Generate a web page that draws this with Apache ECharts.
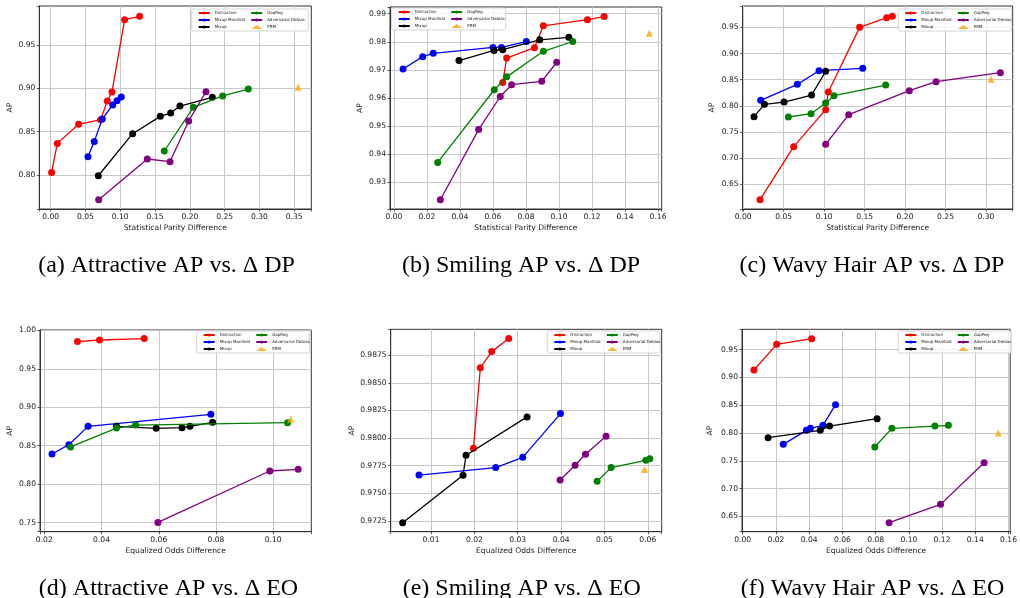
<!DOCTYPE html>
<html>
<head>
    <meta charset="utf-8">
    <title>AP vs fairness gap</title>
    <script src="https://cdn.jsdelivr.net/npm/echarts@6.0.0/dist/echarts.min.js"></script>
    <style>
        body { margin: 0; background: #fff; }
        #chart { width: 1020px; height: 598px; }
    </style>
</head>
<body>
<div id="chart"></div>
<script>
    const methodNames = ['Distraction', 'Mixup Manifold', 'Mixup', 'GapReg', 'Adversarial Debias', 'ERM'];
    const methodColors = ['#ff0000', '#0000ff', '#000000', '#008000', '#800080', '#ffa500'];

    // (a) Attractive, AP vs statistical parity difference
    const attrDpDistraction = [[0.0014, 0.8030], [0.0096, 0.8365], [0.0402, 0.8585], [0.0718, 0.8638], [0.0814, 0.8854], [0.0881, 0.8958], [0.1063, 0.9792], [0.1279, 0.9831]];
    const attrDpManifold = [[0.0536, 0.8212], [0.0627, 0.8388], [0.0742, 0.8646], [0.0891, 0.8808], [0.0953, 0.8858], [0.1015, 0.8900]];
    const attrDpMixup = [[0.0685, 0.7992], [0.1178, 0.8477], [0.1576, 0.8677], [0.1724, 0.8715], [0.1858, 0.8796], [0.2323, 0.8896]];
    const attrDpGapReg = [[0.1633, 0.8277], [0.2050, 0.8781], [0.2471, 0.8912], [0.2840, 0.8992]];
    const attrDpAdv = [[0.0690, 0.7715], [0.1389, 0.8185], [0.1715, 0.8154], [0.1983, 0.8623], [0.2232, 0.8962]];
    const attrDpErm = [[0.3558, 0.9012]];

    // (b) Smiling, AP vs statistical parity difference
    const smileDpDistraction = [[0.0659, 0.9655], [0.0683, 0.9742], [0.0851, 0.9779], [0.0905, 0.9857], [0.1172, 0.9879], [0.1273, 0.9890]];
    const smileDpManifold = [[0.0055, 0.9703], [0.0174, 0.9747], [0.0238, 0.9759], [0.0600, 0.9780], [0.0651, 0.9780], [0.0802, 0.9801]];
    const smileDpMixup = [[0.0394, 0.9733], [0.0606, 0.9769], [0.0659, 0.9772], [0.0883, 0.9807], [0.1059, 0.9816]];
    const smileDpGapReg = [[0.0265, 0.9370], [0.0608, 0.9629], [0.0683, 0.9675], [0.0905, 0.9766], [0.1083, 0.9801]];
    const smileDpAdv = [[0.0281, 0.9237], [0.0513, 0.9487], [0.0644, 0.9605], [0.0713, 0.9647], [0.0895, 0.9659], [0.0986, 0.9727]];
    const smileDpErm = [[0.1547, 0.9830]];

    // (c) Wavy Hair, AP vs statistical parity difference
    const wavyDpDistraction = [[0.0208, 0.6207], [0.0624, 0.7220], [0.1019, 0.7927], [0.1052, 0.8264], [0.1439, 0.9500], [0.1773, 0.9685], [0.1843, 0.9710]];
    const wavyDpManifold = [[0.0216, 0.8105], [0.0669, 0.8411], [0.0937, 0.8672], [0.1477, 0.8717]];
    const wavyDpMixup = [[0.0134, 0.7793], [0.0262, 0.8029], [0.0505, 0.8073], [0.0846, 0.8207], [0.1019, 0.8659]];
    const wavyDpGapReg = [[0.0558, 0.7787], [0.0838, 0.7850], [0.1019, 0.8054], [0.1122, 0.8194], [0.1761, 0.8398]];
    const wavyDpAdv = [[0.1019, 0.7264], [0.1304, 0.7831], [0.2053, 0.8290], [0.2383, 0.8462], [0.3178, 0.8634]];
    const wavyDpErm = [[0.3062, 0.8506]];

    // (d) Attractive, AP vs equalized odds difference
    const attrEoDistraction = [[0.0316, 0.9853], [0.0393, 0.9874], [0.0549, 0.9892]];
    const attrEoManifold = [[0.0227, 0.8393], [0.0286, 0.8514], [0.0353, 0.8752], [0.0782, 0.8908]];
    const attrEoMixup = [[0.0452, 0.8752], [0.0591, 0.8726], [0.0681, 0.8735], [0.0709, 0.8752], [0.0788, 0.8804]];
    const attrEoGapReg = [[0.0292, 0.8484], [0.0452, 0.8730], [0.0519, 0.8769], [0.1050, 0.8800]];
    const attrEoAdv = [[0.0597, 0.7504], [0.0988, 0.8172], [0.1087, 0.8193]];
    const attrEoErm = [[0.1061, 0.8843]];

    // (e) Smiling, AP vs equalized odds difference
    const smileEoDistraction = [[0.01977, 0.97908], [0.02138, 0.98638], [0.02400, 0.98783], [0.02792, 0.98901]];
    const smileEoManifold = [[0.00723, 0.97666], [0.02492, 0.97733], [0.03115, 0.97826], [0.03985, 0.98222]];
    const smileEoMixup = [[0.00346, 0.97235], [0.01738, 0.97663], [0.01808, 0.97845], [0.03215, 0.98192]];
    const smileEoGapReg = [[0.04831, 0.97609], [0.05154, 0.97733], [0.05954, 0.97799], [0.06046, 0.97814]];
    const smileEoAdv = [[0.03977, 0.97621], [0.04323, 0.97754], [0.04562, 0.97854], [0.05038, 0.98017]];
    const smileEoErm = [[0.05923, 0.97715]];

    // (f) Wavy Hair, AP vs equalized odds difference
    const wavyEoDistraction = [[0.00676, 0.9134], [0.02047, 0.9596], [0.04154, 0.9698]];
    const wavyEoManifold = [[0.02445, 0.7796], [0.03836, 0.8048], [0.04075, 0.8084], [0.0483, 0.8138], [0.0559, 0.8510]];
    const wavyEoMixup = [[0.0153, 0.7916], [0.0467, 0.8048], [0.0523, 0.8126], [0.0809, 0.8258]];
    const wavyEoGapReg = [[0.0795, 0.7748], [0.0898, 0.8084], [0.1157, 0.8126], [0.1238, 0.8138]];
    const wavyEoAdv = [[0.0881, 0.6387], [0.1191, 0.6717], [0.1453, 0.7466]];
    const wavyEoErm = [[0.1538, 0.8000]];

    const dpName = 'Statistical Parity Difference';
    const eoName = 'Equalized Odds Difference';

    // layout of each panel: plot box, axis ranges, legend box, caption
    const panels = [
        {
            series: [attrDpDistraction, attrDpManifold, attrDpMixup, attrDpGapReg, attrDpAdv, attrDpErm],
            box: [39.3, 6, 272, 203], x: [-0.0163, 0.3745, 0.05, 2], y: [0.7608, 0.995, 0.05, 2],
            xName: dpName, yGap: 24.5, legend: [191.7, 9, 116.6, 22],
            caption: '(a) Attractive AP vs. Δ DP', cap: [166.5, 266]
        },
        {
            series: [smileDpDistraction, smileDpManifold, smileDpMixup, smileDpGapReg, smileDpAdv, smileDpErm],
            box: [390, 7, 271.7, 202], x: [-0.0024, 0.1622, 0.02, 2], y: [0.9204, 0.9924, 0.01, 2],
            xName: dpName, yGap: 25.5, legend: [391.7, 8, 114, 22],
            caption: '(b) Smiling AP vs. Δ DP', cap: [521, 266]
        },
        {
            series: [wavyDpDistraction, wavyDpManifold, wavyDpMixup, wavyDpGapReg, wavyDpAdv, wavyDpErm],
            box: [742.7, 6, 270, 203], x: [-0.0006, 0.333, 0.05, 2], y: [0.6029, 0.9908, 0.05, 2],
            xName: dpName, yGap: 26.5, legend: [898.3, 9, 113.4, 22],
            caption: '(c) Wavy Hair AP vs. Δ DP', cap: [872, 266]
        },
        {
            series: [attrEoDistraction, attrEoManifold, attrEoMixup, attrEoGapReg, attrEoAdv, attrEoErm],
            box: [40, 330, 271.3, 201.7], x: [0.0185, 0.1133, 0.02, 2], y: [0.7383, 1.0004, 0.05, 2],
            xName: eoName, yGap: 25.5, legend: [196.7, 331, 112.6, 22],
            caption: '(d) Attractive AP vs. Δ EO', cap: [168.5, 588.5]
        },
        {
            series: [smileEoDistraction, smileEoManifold, smileEoMixup, smileEoGapReg, smileEoAdv, smileEoErm],
            box: [390.7, 329.3, 271, 202.4], x: [0.0007, 0.0632, 0.01, 2], y: [0.97153, 0.98985, 0.0025, 4],
            xName: eoName, yGap: 34.5, legend: [547.3, 331, 112.7, 22],
            caption: '(e) Smiling AP vs. Δ EO', cap: [521.7, 588.5]
        },
        {
            series: [wavyEoDistraction, wavyEoManifold, wavyEoMixup, wavyEoGapReg, wavyEoAdv, wavyEoErm],
            box: [742, 329.3, 270.7, 202.4], x: [-0.0004, 0.161, 0.02, 2], y: [0.6225, 0.9866, 0.05, 2],
            xName: eoName, yGap: 27.5, legend: [898.3, 331, 113.4, 22],
            caption: '(f) Wavy Hair AP vs. Δ EO', cap: [872.5, 588.5]
        }
    ];

    const font = 'DejaVu Sans';

    function onStep(v, step) {
        const k = v / step;
        return Math.abs(k - Math.round(k)) < 1e-6;
    }

    function makeAxis(idx, range, name, isY, gap) {
        const step = range[2];
        const digits = range[3];
        return {
            type: 'value',
            gridIndex: idx,
            min: range[0],
            max: range[1],
            minInterval: step,
            maxInterval: step,
            name: name,
            nameLocation: 'middle',
            nameGap: gap,
            nameRotate: isY ? 90 : 0,
            nameTextStyle: { fontFamily: font, fontSize: 7.6, color: '#1a1a1a' },
            axisLine: { show: true, onZero: false, lineStyle: { color: '#333', width: 1 } },
            axisTick: { show: true, length: 2.5, lineStyle: { color: '#333', width: 0.8 } },
            axisLabel: {
                fontFamily: font, fontSize: 7.6, color: '#1a1a1a', margin: 4,
                formatter: function (v) { return onStep(v, step) ? v.toFixed(digits) : ''; }
            },
            splitLine: { show: true, showMinLine: false, showMaxLine: false, lineStyle: { color: '#c8c8c8', width: 1 } }
        };
    }

    const grids = [], xAxes = [], yAxes = [], series = [], legends = [], graphics = [];

    panels.forEach(function (p, i) {
        grids.push({
            left: p.box[0], top: p.box[1], width: p.box[2], height: p.box[3],
            show: true, borderColor: '#333', borderWidth: 1, backgroundColor: 'transparent'
        });
        xAxes.push(makeAxis(i, p.x, p.xName, false, 15));
        yAxes.push(makeAxis(i, p.y, 'AP', true, p.yGap));

        p.series.forEach(function (pts, m) {
            const isErm = m === 5;
            series.push({
                name: methodNames[m],
                type: isErm ? 'scatter' : 'line',
                xAxisIndex: i,
                yAxisIndex: i,
                data: pts,
                symbol: isErm ? 'triangle' : 'circle',
                symbolSize: 7,
                itemStyle: { color: methodColors[m] },
                lineStyle: { color: methodColors[m], width: 1.3 },
                emphasis: { disabled: true },
                z: 2 + m * 0.01
            });
        });

        // legend frame, then two columns of entries
        const lb = p.legend;
        graphics.push({
            type: 'rect', z: 3,
            shape: { x: lb[0], y: lb[1], width: lb[2], height: lb[3], r: 1.5 },
            style: { fill: 'rgba(255,255,255,0.8)', stroke: '#cccccc', lineWidth: 0.8 }
        });
        const legendBase = {
            orient: 'vertical', top: lb[1] + 1.5, itemWidth: 11, itemHeight: 4, itemGap: 2,
            padding: 0, z: 4,
            textStyle: { fontFamily: font, fontSize: 4, color: '#222', lineHeight: 5 }
        };
        legends.push(Object.assign({}, legendBase, { left: lb[0] + 6, data: methodNames.slice(0, 3) }));
        legends.push(Object.assign({}, legendBase, { left: lb[0] + 58.5, data: methodNames.slice(3) }));

        graphics.push({
            type: 'text', x: p.cap[0], y: p.cap[1],
            style: {
                text: p.caption, font: '24px "Liberation Serif"', fill: '#000',
                align: 'center', verticalAlign: 'middle'
            }
        });
    });

    const chart = echarts.init(document.getElementById('chart'), null, { renderer: 'canvas' });
    chart.setOption({
        animation: false,
        backgroundColor: '#fff',
        grid: grids,
        xAxis: xAxes,
        yAxis: yAxes,
        legend: legends,
        series: series,
        graphic: graphics
    });
</script>
</body>
</html>
